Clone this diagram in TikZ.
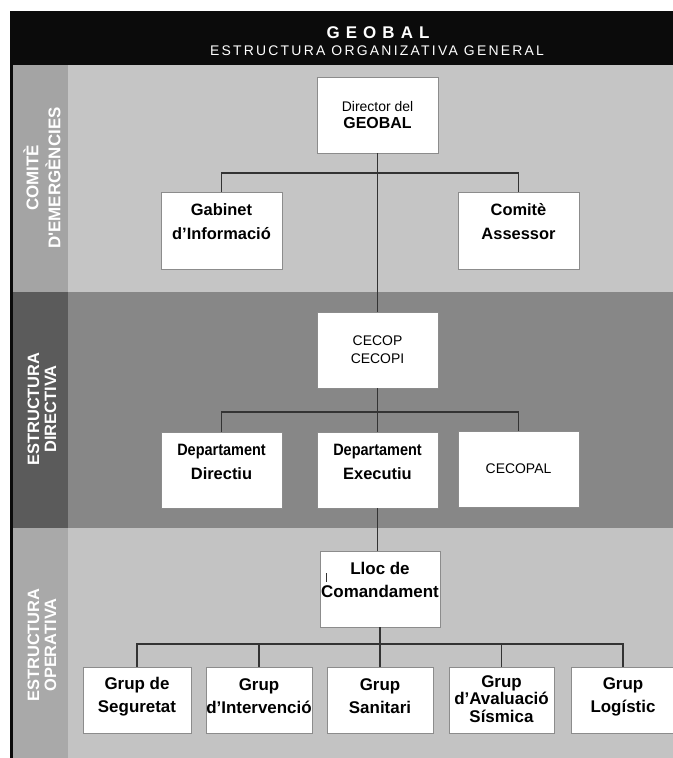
\documentclass[tikz,border=0pt]{standalone}
\usepackage{fontspec}
\setmainfont{Liberation Sans}
\newfontfamily\hdrA[LetterSpace=36]{Liberation Sans}
\newfontfamily\hdrB[LetterSpace=16]{Liberation Sans}
\definecolor{hdrbg}{HTML}{0B0B0B}
\definecolor{bgA}{HTML}{C5C5C5}
\definecolor{sbA}{HTML}{A4A4A4}
\definecolor{bgB}{HTML}{878787}
\definecolor{sbB}{HTML}{5B5B5B}
\definecolor{bgC}{HTML}{C3C3C3}
\definecolor{sbC}{HTML}{A9A9A9}
\definecolor{conncol}{HTML}{333333}
\definecolor{boxline}{HTML}{8C8C8C}
\tikzset{
  box/.style={draw=boxline, fill=white, line width=0.8bp, rectangle, inner sep=0pt},
  conn/.style={draw=conncol, line width=1.9bp},
  txt/.style={align=center, text=black, inner sep=0pt},
  bt/.style={txt, font=\bfseries\fontsize{16.5}{24}\selectfont},
  gt/.style={txt, font=\bfseries\fontsize{17}{23}\selectfont},
  rt/.style={txt, font=\fontsize{14}{18}\selectfont},
  side/.style={rotate=90, align=center, text=white, inner sep=0pt}
}
\begin{document}
\begin{tikzpicture}[x=1bp,y=-1bp]
\useasboundingbox (0,0) rectangle (673,758);
% header and bands
\fill[hdrbg] (9.5,11.5) rectangle (673,65);
\fill[bgA] (13,65) rectangle (673,292);
\fill[sbA] (13,65) rectangle (68,292);
\fill[bgB] (13,292) rectangle (673,528);
\fill[sbB] (13,292) rectangle (68,528);
\fill[bgC] (13,528) rectangle (673,758);
\fill[sbC] (13,528) rectangle (68,758);
\fill[hdrbg] (9.5,65) rectangle (13,758);
% header texts
\node[text=white, inner sep=0pt, font=\hdrA\bfseries\fontsize{17}{20}\selectfont] (title) at (378,33) {GEOBAL};
\node[text=white, inner sep=0pt, font=\hdrB\fontsize{14}{16}\selectfont] (subtitle) at (377,51) {ESTRUCTURA ORGANIZATIVA GENERAL};
% side labels
\node[side, font=\bfseries\fontsize{17}{22}\selectfont] (sideA) at (42,178) {COMITÈ\\D\textquotesingle EMERGÈNCIES};
\node[side, font=\bfseries\fontsize{16.5}{17}\selectfont] (sideB) at (42,409) {ESTRUCTURA\\DIRECTIVA};
\node[side, font=\bfseries\fontsize{16.5}{17}\selectfont] (sideC) at (42,645) {ESTRUCTURA\\OPERATIVA};
% boxes
\node[box, minimum width=121bp, minimum height=76bp] (dir) at (377.5,115) {};
\node[box, minimum width=121bp, minimum height=77bp] (gab) at (221.5,230.5) {};
\node[box, minimum width=121bp, minimum height=77bp] (com) at (518.5,230.5) {};
\node[box, minimum width=121bp, minimum height=76bp] (cec) at (377.5,350) {};
\node[box, minimum width=121bp, minimum height=76bp] (ddi) at (221.5,470) {};
\node[box, minimum width=121bp, minimum height=76bp] (dex) at (377.5,470) {};
\node[box, minimum width=121bp, minimum height=76bp] (cal) at (518.5,469) {};
\node[box, minimum width=120bp, minimum height=76bp] (llo) at (380,589) {};
\node[box, minimum width=108bp, minimum height=66bp] (seg) at (137,700) {};
\node[box, minimum width=106bp, minimum height=66bp] (int) at (259,700) {};
\node[box, minimum width=106bp, minimum height=66bp] (san) at (380,700) {};
\node[box, minimum width=105bp, minimum height=66bp] (ava) at (501.5,700) {};
\node[box, minimum width=104bp, minimum height=66bp] (log) at (623,700) {};
% bus coordinates
\coordinate (busA) at (377.5,173);
\coordinate (busB) at (377.5,412);
\coordinate (busC) at (380,644);
% connectors
\draw[conn] (dir.south) -- (cec.north);
\draw[conn] (gab.north) |- (busA) -| (com.north);
\draw[conn] (cec.south) -- (dex.north);
\draw[conn] (ddi.north) |- (busB) -| (cal.north);
\draw[conn] (dex.south) -- (dex.south |- llo.north);
\draw[conn] (llo.south) -- (san.north);
\draw[conn] (seg.north) |- (busC) -| (log.north);
\draw[conn] (int.north) |- (busC);
\draw[conn] (ava.north) |- (busC);
% texts
\node[txt, font=\fontsize{14}{17}\selectfont] (dirT) at (377.5,115) {Director del\\{\bfseries\fontsize{16}{17}\selectfont GEOBAL}};
\node[bt] (gabT) at (221.5,222) {Gabinet\\d’Informació};
\node[bt] (comT) at (518.5,222) {Comitè\\Assessor};
\node[rt] (cecT) at (377.5,350) {CECOP\\CECOPI};
\node[bt] (ddiT) at (221.5,461.5) {\scalebox{0.88}[1]{Departament}\\Directiu};
\node[bt] (dexT) at (377.5,461.5) {\scalebox{0.88}[1]{Departament}\\Executiu};
\node[rt] (calT) at (518.5,469) {CECOPAL};
\node[gt] (lloT) at (380,580) {Lloc de\\Comandament};
\node[gt] (segT) at (137,696.5) {Grup de\\Seguretat};
\node[gt] (intT) at (259,696.5) {Grup\\d’Intervenció};
\node[gt] (sanT) at (380,696.5) {Grup\\Sanitari};
\node[txt, font=\bfseries\fontsize{17}{17.5}\selectfont] (avaT) at (501.5,699) {Grup\\d’Avaluació\\Sísmica};
\node[gt] (logT) at (623,696.5) {Grup\\Logístic};
% small tick mark inside Lloc box
\coordinate (tickA) at (326,573);
\coordinate (tickB) at (326,582);
\draw[draw=conncol, line width=0.7bp] (tickA) -- (tickB);
\end{tikzpicture}
\end{document}
